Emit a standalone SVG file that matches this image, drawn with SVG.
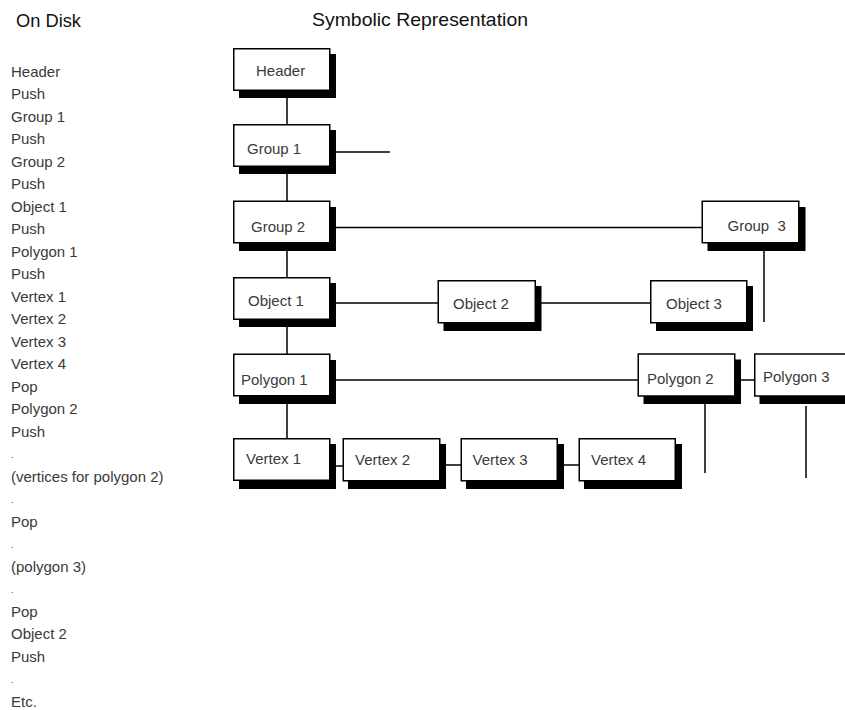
<svg xmlns="http://www.w3.org/2000/svg" width="845" height="710" viewBox="0 0 845 710">
<style>
  text { font-family: "Liberation Sans", Arial, sans-serif; fill: #3a3a3a; }
  .title { font-size: 19px; fill: #111; }
  .list { font-size: 15px; }
  .lbl { font-size: 15px; }
  .box { fill: #fff; stroke: #000; stroke-width: 1.5; }
  .shadow { fill: #000; }
  .conn line { stroke: #000; stroke-width: 1.5; }
</style>
<rect width="845" height="710" fill="#fff"/>
<text class="title" x="16" y="27" textLength="65" lengthAdjust="spacingAndGlyphs">On Disk</text>
<text class="title" x="312" y="26" textLength="216" lengthAdjust="spacingAndGlyphs">Symbolic Representation</text>
<g id="on-disk-list" class="list">
  <text x="11" y="76.7">Header</text>
  <text x="11" y="99.2">Push</text>
  <text x="11" y="121.7">Group 1</text>
  <text x="11" y="144.2">Push</text>
  <text x="11" y="166.7">Group 2</text>
  <text x="11" y="189.2">Push</text>
  <text x="11" y="211.7">Object 1</text>
  <text x="11" y="234.2">Push</text>
  <text x="11" y="256.7">Polygon 1</text>
  <text x="11" y="279.2">Push</text>
  <text x="11" y="301.7">Vertex 1</text>
  <text x="11" y="324.2">Vertex 2</text>
  <text x="11" y="346.7">Vertex 3</text>
  <text x="11" y="369.2">Vertex 4</text>
  <text x="11" y="391.7">Pop</text>
  <text x="11" y="414.2">Polygon 2</text>
  <text x="11" y="436.7">Push</text>
  <text x="11" y="458.2" font-size="9">.</text>
  <text x="11" y="481.7">(vertices for polygon 2)</text>
  <text x="11" y="503.2" font-size="9">.</text>
  <text x="11" y="526.7">Pop</text>
  <text x="11" y="548.2" font-size="9">.</text>
  <text x="11" y="571.7">(polygon 3)</text>
  <text x="11" y="593.2" font-size="9">.</text>
  <text x="11" y="616.7">Pop</text>
  <text x="11" y="639.2">Object 2</text>
  <text x="11" y="661.7">Push</text>
  <text x="11" y="683.2" font-size="9">.</text>
  <text x="11" y="706.7">Etc.</text>
</g>
<g id="connectors" class="conn">
  <line x1="287" y1="97" x2="287" y2="124"/>
  <line x1="336" y1="152" x2="390" y2="152"/>
  <line x1="287" y1="173" x2="287" y2="201"/>
  <line x1="336" y1="227.5" x2="702" y2="227.5"/>
  <line x1="287" y1="250" x2="287" y2="277"/>
  <line x1="336" y1="303" x2="438" y2="303"/>
  <line x1="541" y1="303" x2="650" y2="303"/>
  <line x1="764" y1="251" x2="764" y2="322"/>
  <line x1="287" y1="326" x2="287" y2="354"/>
  <line x1="336" y1="380" x2="638" y2="380"/>
  <line x1="741" y1="380" x2="754" y2="380"/>
  <line x1="705" y1="403" x2="705" y2="473"/>
  <line x1="806" y1="406" x2="806" y2="478"/>
  <line x1="287" y1="403" x2="287" y2="438"/>
  <line x1="336" y1="466" x2="343" y2="466"/>
  <line x1="446" y1="465" x2="461" y2="465"/>
  <line x1="564" y1="465" x2="579" y2="465"/>
</g>
<g id="header">
  <rect class="shadow" x="239" y="54" width="97" height="44"/>
  <rect class="box" x="233.75" y="48.75" width="96" height="41.5"/>
  <text class="lbl" x="256" y="76">Header</text>
</g>
<g id="group1">
  <rect class="shadow" x="239" y="130" width="97" height="44"/>
  <rect class="box" x="233.75" y="124.75" width="96" height="41.5"/>
  <text class="lbl" x="247" y="154">Group 1</text>
</g>
<g id="group2">
  <rect class="shadow" x="239" y="207" width="97" height="44"/>
  <rect class="box" x="233.75" y="201.25" width="96" height="41.5"/>
  <text class="lbl" x="251" y="232">Group 2</text>
</g>
<g id="group3">
  <rect class="shadow" x="707.5" y="207" width="98" height="44"/>
  <rect class="box" x="702.25" y="201.25" width="96.5" height="41.5"/>
  <text class="lbl" x="727.5" y="231" xml:space="preserve">Group  3</text>
</g>
<g id="object1">
  <rect class="shadow" x="239" y="283" width="97" height="44"/>
  <rect class="box" x="233.75" y="277.75" width="96" height="41.5"/>
  <text class="lbl" x="248" y="306">Object 1</text>
</g>
<g id="object2">
  <rect class="shadow" x="443.5" y="286" width="98" height="45"/>
  <rect class="box" x="438.25" y="280.75" width="97" height="42"/>
  <text class="lbl" x="453" y="309">Object 2</text>
</g>
<g id="object3">
  <rect class="shadow" x="656" y="286" width="97" height="45"/>
  <rect class="box" x="650.75" y="280.75" width="96" height="42"/>
  <text class="lbl" x="666" y="309">Object 3</text>
</g>
<g id="polygon1">
  <rect class="shadow" x="239" y="360" width="97" height="44"/>
  <rect class="box" x="233.75" y="354.25" width="96" height="41.5"/>
  <text class="lbl" x="241" y="385">Polygon 1</text>
</g>
<g id="polygon2">
  <rect class="shadow" x="643.5" y="359.5" width="97.5" height="44.5"/>
  <rect class="box" x="638.25" y="354" width="96.5" height="42"/>
  <text class="lbl" x="647" y="384">Polygon 2</text>
</g>
<g id="polygon3">
  <rect class="shadow" x="759.5" y="359.5" width="97.5" height="44.5"/>
  <rect class="box" x="754.75" y="354" width="96.5" height="42"/>
  <text class="lbl" x="763" y="382">Polygon 3</text>
</g>
<g id="vertex1">
  <rect class="shadow" x="239" y="444" width="97" height="45"/>
  <rect class="box" x="233.75" y="438.75" width="96" height="41.5"/>
  <text class="lbl" x="246" y="463.5">Vertex 1</text>
</g>
<g id="vertex2">
  <rect class="shadow" x="348" y="444" width="98" height="45"/>
  <rect class="box" x="343.25" y="438.75" width="96.5" height="42"/>
  <text class="lbl" x="355" y="464.5">Vertex 2</text>
</g>
<g id="vertex3">
  <rect class="shadow" x="466" y="444" width="98" height="45"/>
  <rect class="box" x="461.25" y="438.75" width="96" height="42"/>
  <text class="lbl" x="472.5" y="465">Vertex 3</text>
</g>
<g id="vertex4">
  <rect class="shadow" x="584" y="444" width="98" height="45"/>
  <rect class="box" x="579.25" y="438.75" width="96" height="42"/>
  <text class="lbl" x="591" y="465">Vertex 4</text>
</g>
</svg>
